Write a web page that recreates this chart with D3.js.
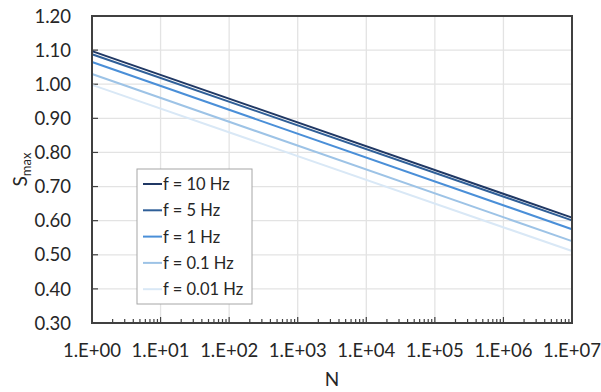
<!DOCTYPE html>
<html>
<head>
<meta charset="utf-8">
<script src="https://cdn.jsdelivr.net/npm/d3@7"></script>
<style>
  body { margin: 0; background: #fff; }
  text { font-family: Lato, "Open Sans", sans-serif; fill: #262626; }
</style>
</head>
<body>
<script>
// S_max vs cycles N, one line per loading frequency
var series = ["f = 10 Hz", "f = 5 Hz", "f = 1 Hz", "f = 0.1 Hz", "f = 0.01 Hz"];
var colors = ["#203864", "#2f5f98", "#4a8fd8", "#9dc3e6", "#d9e8f6"];
var nValues = [1, 1e7];
// S_max at N = 1 and N = 1e7
var sStart = [1.097, 1.088, 1.065, 1.030, 0.998];
var sEnd = [0.609, 0.601, 0.575, 0.540, 0.511];
var yTicks = [0.3, 0.4, 0.5, 0.6, 0.7, 0.8, 0.9, 1.0, 1.1, 1.2];
var xTicks = [1, 10, 100, 1000, 1e4, 1e5, 1e6, 1e7];

var WIDTH = 601, HEIGHT = 392;
var margin = {left: 92, right: 29, top: 16, bottom: 69};
var plotW = WIDTH - margin.left - margin.right;
var plotH = HEIGHT - margin.top - margin.bottom;

var svg = d3.select("body").append("svg")
    .attr("width", WIDTH)
    .attr("height", HEIGHT);

var x = d3.scaleLog().domain([1, 1e7]).range([0, plotW]);
var y = d3.scaleLinear().domain([0.3, 1.2]).range([plotH, 0]);

var g = svg.append("g")
    .attr("transform", "translate(" + margin.left + "," + margin.top + ")");

// gridlines
g.selectAll(".hgrid").data(yTicks).enter().append("line")
    .attr("x1", 0).attr("x2", plotW)
    .attr("y1", function(d) { return y(d); })
    .attr("y2", function(d) { return y(d); })
    .style("stroke", "#e3e3e3").style("stroke-width", 1.3);
g.selectAll(".vgrid").data(xTicks).enter().append("line")
    .attr("y1", 0).attr("y2", plotH)
    .attr("x1", function(d) { return x(d); })
    .attr("x2", function(d) { return x(d); })
    .style("stroke", "#e3e3e3").style("stroke-width", 1.3);

// minor ticks on the log axis (2..9 in each decade)
var minor = [];
xTicks.slice(0, -1).forEach(function(d) {
  for (var k = 2; k <= 9; k++) minor.push(d * k);
});
g.selectAll(".minor").data(minor).enter().append("line")
    .attr("x1", function(d) { return x(d); })
    .attr("x2", function(d) { return x(d); })
    .attr("y1", plotH).attr("y2", plotH - 4)
    .style("stroke", "#404040").style("stroke-width", 1.2);
g.selectAll(".major").data(xTicks).enter().append("line")
    .attr("x1", function(d) { return x(d); })
    .attr("x2", function(d) { return x(d); })
    .attr("y1", plotH).attr("y2", plotH - 6)
    .style("stroke", "#404040").style("stroke-width", 1.2);
g.selectAll(".ytick").data(yTicks).enter().append("line")
    .attr("x1", 0).attr("x2", 6)
    .attr("y1", function(d) { return y(d); })
    .attr("y2", function(d) { return y(d); })
    .style("stroke", "#404040").style("stroke-width", 1.2);

// series lines
var line = d3.line()
    .x(function(d) { return x(d[0]); })
    .y(function(d) { return y(d[1]); });
series.forEach(function(name, i) {
  var pts = [[nValues[0], sStart[i]], [nValues[1], sEnd[i]]];
  g.append("path")
      .datum(pts)
      .attr("d", line)
      .style("fill", "none")
      .style("stroke", colors[i])
      .style("stroke-width", 2);
});

// frame
g.append("rect")
    .attr("width", plotW).attr("height", plotH)
    .style("fill", "none").style("stroke", "#404040").style("stroke-width", 2);

// tick labels
g.selectAll(".ylab").data(yTicks).enter().append("text")
    .attr("x", -21)
    .attr("y", function(d) { return y(d); })
    .attr("dy", "0.36em")
    .attr("text-anchor", "end")
    .style("font-size", "18.5px")
    .text(function(d) { return d3.format(".2f")(d); });
g.selectAll(".xlab").data(xTicks).enter().append("text")
    .attr("x", function(d) { return x(d); })
    .attr("y", plotH + 34)
    .attr("text-anchor", "middle")
    .style("font-size", "18.5px")
    .text(function(d) {
      var e = Math.round(Math.log10(d));
      return "1.E+" + (e < 10 ? "0" : "") + e;
    });

// axis titles
svg.append("text")
    .attr("x", margin.left + plotW / 2)
    .attr("y", 386)
    .attr("text-anchor", "middle")
    .style("font-size", "19px")
    .text("N");
var yt = svg.append("text")
    .attr("transform", "translate(27," + (margin.top + plotH / 2) + ") rotate(-90)")
    .attr("text-anchor", "middle")
    .style("font-size", "19px");
yt.append("tspan").text("S");
yt.append("tspan").attr("dy", 4).style("font-size", "13px").text("max");

// legend
var leg = svg.append("g").attr("transform", "translate(137,169)");
leg.append("rect")
    .attr("width", 115).attr("height", 135)
    .style("fill", "#fff").style("stroke", "#a6a6a6").style("stroke-width", 1);
series.forEach(function(name, i) {
  var ly = 15 + i * 26.3;
  leg.append("line")
      .attr("x1", 6).attr("x2", 25)
      .attr("y1", ly).attr("y2", ly)
      .style("stroke", colors[i]).style("stroke-width", 2);
  leg.append("text")
      .attr("x", 26).attr("y", ly)
      .attr("dy", "0.36em")
      .style("font-size", "16.5px")
      .text(name);
});
</script>
</body>
</html>
